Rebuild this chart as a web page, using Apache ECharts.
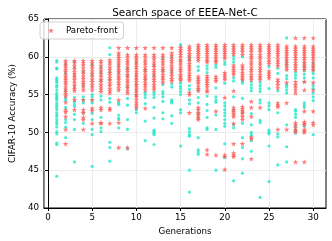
<!DOCTYPE html>
<html><head><meta charset="utf-8">
<script src="https://cdn.jsdelivr.net/npm/echarts@6/dist/echarts.min.js"></script>
<style>html,body{margin:0;padding:0;background:#fff}#c{width:332px;height:241px}</style>
</head><body><div id="c"></div>
<script>
const generations = [1,2,3,4,5,6,7,8,9,10,11,12,13,14,15,16,17,18,19,20,21,22,23,24,25,26,27,28,29,30];
const xTicks = [0,5,10,15,20,25,30];
const yTicks = [40,45,50,55,60,65];

// accuracy of every sampled architecture, one list per generation
const population = [
  [59.5,59.3,58.5,58.4,57.2,57.0,56.8,56.6,56.2,56.0,55.6,55.2,54.9,54.7,54.5,54.3,53.9,53.6,53.3,53.0,52.6,52.3,52.1,51.7,51.4,51.1,50.7,50.1,49.8,48.6,48.4,44.2],
  [59.0,57.8,55.5,54.6,54.3,53.3,51.7,51.3,50.7,49.3],
  [59.4,58.6,57.5,56.0,54.6,54.1,53.7,53.4,52.4,51.7,50.4,46.1],
  [58.0,56.2,54.7,54.3,53.9,52.6,51.2],
  [59.0,57.6,55.0,54.7,54.3,53.9,52.5,51.7,50.4,49.7,45.5],
  [58.6,57.9,56.9,54.8,54.3,52.0,50.6,50.1],
  [61.2,60.3,58.0,57.0,54.5,54.0,48.7,48.0,46.2],
  [58.8,57.9,53.9,53.7,52.3,51.9,51.7,50.6],
  [58.5,57.5,56.0,54.5,53.6,51.7,50.4,47.8],
  [59.2,57.5,56.4,55.5,54.9,53.0,52.6],
  [58.2,57.0,55.3,55.0,54.6,53.8,51.5,48.9],
  [58.8,57.5,55.3,55.0,54.6,53.3,51.9,50.3,50.1,49.9,49.7,48.4],
  [59.8,58.2,56.3,55.4,55.1,54.7,54.1,52.6,51.8],
  [60.0,58.0,56.4,56.0,54.3,54.1,53.9,52.2,51.2],
  [61.6,61.4,59.5,56.5,56.1,55.8,55.4,55.0,53.0,52.6,48.2],
  [60.0,59.6,56.2,55.7,54.3,53.8,50.5,50.1,49.7,49.5,45.0,42.1],
  [58.7,58.2,55.6,54.6,53.9,52.5,51.9,49.3,47.7,47.4,47.1],
  [58.8,58.4,57.9,54.8,53.7,52.9,52.0,50.6,50.4],
  [58.9,58.6,55.9,54.7,54.3,54.0,52.3,50.4,45.0],
  [59.3,59.0,56.5,53.9,53.5,53.0,52.6,52.2,51.7,51.2,50.8,48.5,46.7],
  [60.1,59.7,59.3,57.2,56.8,54.7,52.9,51.0,50.6,43.6],
  [60.0,56.8,56.5,54.5,52.6,51.2,49.3,48.0,46.5,44.6],
  [56.7,56.3,55.9,55.5,52.5,51.0,50.0,49.7,48.9,47.5],
  [56.6,56.2,55.8,55.4,54.3,53.9,51.6,51.3,41.4],
  [58.7,55.8,53.9,53.5,53.0,50.3,50.0,49.8,48.2,43.5],
  [58.5,57.8,55.5,52.6,49.4,49.8,45.7],
  [62.5,59.4,59.0,57.5,57.1,56.3,56.0,55.6,55.2,51.0,48.1,46.1],
  [58.0,57.6,57.2,53.0,52.8,52.4,52.0,50.8,50.3,49.9],
  [59.2,58.7,58.2,57.7,57.2,56.7,53.9,53.6,53.3,50.8],
  [59.2,58.7,58.2,57.8,57.2,56.2,55.8,55.2,54.7,54.2,49.7]
];

// Pareto-front architectures, one list per generation
const paretoFront = [
  [],
  [59.5,59.2,58.9,58.6,58.3,58.0,57.6,57.3,57.0,56.7,56.4,56.0,55.7,55.4,55.1,54.8,54.0,53.0,52.7,52.1,50.4,48.5],
  [59.5,59.2,58.8,58.4,58.0,57.7,57.3,57.0,56.6,56.2,55.8,55.5,54.3,53.0],
  [59.5,59.2,58.9,58.5,58.1,57.8,57.4,57.1,56.7,56.4,56.0,55.6,54.3,53.0,52.6,52.0,51.7,50.4],
  [59.5,59.2,58.8,58.5,58.1,57.8,57.4,57.0,56.7,56.3,56.0,55.6,54.3,53.2,52.9,51.2],
  [59.5,59.2,58.8,58.4,58.1,57.7,57.4,57.0,56.7,56.3,56.0,55.7,55.4,53.3,53.0,51.3,51.2],
  [59.6,59.3,59.0,58.6,58.3,57.9,57.6,57.2,56.9,56.5,56.2,55.8,55.5,55.2,53.2,53.0,51.2],
  [61.2,60.5,60.2,59.9,59.6,59.3,59.0,58.6,58.3,58.0,57.6,57.3,57.0,56.6,56.3,55.9,55.6,54.3,51.3,48.0],
  [61.2,60.3,60.0,59.6,59.3,59.0,58.6,58.3,58.0,57.6,57.3,56.9,56.6,56.2,55.9,55.5,55.2,48.0],
  [61.2,60.3,60.0,59.7,59.4,59.0,58.7,58.4,58.0,57.7,57.3,57.0,56.7,56.3,56.0,55.7,55.3,55.0,54.7,54.3,53.9,53.6,53.3],
  [61.2,60.3,60.0,59.6,59.3,59.0,58.6,58.3,58.0,57.6,57.3,57.0,56.6,56.3,56.0,55.6,53.2],
  [61.2,60.3,60.0,59.7,59.3,59.0,58.7,58.3,58.0,57.7,57.3,57.0,56.7,56.3,56.0,55.7],
  [61.2,60.3,60.0,59.6,59.3,59.0,58.6,58.3,58.0,57.6,57.3,57.0,56.6],
  [61.2,60.5,60.2,59.8,59.5,59.2,58.8,58.5,58.2,57.8,57.5,57.1,56.8],
  [61.2,60.9,60.6,60.3,60.0,59.6,59.3,59.0,58.6,58.3,58.0,57.6,57.4,57.1,56.9],
  [61.4,61.1,60.8,60.4,60.1,59.8,59.5,59.1,58.8,58.5,58.2,57.8,57.5,57.2,56.9,55.3,55.0,52.6],
  [61.6,61.3,61.0,60.7,60.4,60.1,59.8,59.5,57.4,57.1,56.8,56.5,56.1,55.8,55.5,53.3,53.0,52.6,52.3,52.0,51.7],
  [61.6,61.3,61.0,60.7,60.4,60.1,59.8,59.5,59.3,57.5,57.2,56.9,56.6,56.3,56.0,55.6,55.4,47.7,47.1],
  [61.6,61.3,61.0,60.7,60.4,60.1,59.8,59.5,59.3,57.4,57.1,56.8,52.8,47.0],
  [61.6,61.3,61.0,60.7,60.4,60.1,59.8,57.9,57.6,57.3,57.0,54.6,47.0,46.8,45.1],
  [61.6,61.3,61.0,60.7,60.4,58.9,58.6,58.3,58.0,57.7,55.5,53.3,53.0,52.7,52.4,52.1,51.2,48.5,47.3,47.0,46.8],
  [61.6,61.3,61.0,60.7,60.3,58.9,58.6,58.3,57.9,57.6,57.3,57.0,53.4,53.1,52.8,52.5,52.1,51.7,48.5],
  [61.6,61.3,61.0,60.7,60.3,60.0,59.7,59.3,59.0,58.6,58.3,58.0,57.6,57.3,57.0,54.1,53.3,52.1,49.4,49.2,46.5],
  [61.6,61.3,61.0,60.7,60.3,60.0,59.7,59.3,59.0,58.6,58.3,58.0,57.6,57.3,57.0,53.3],
  [61.6,61.3,61.0,60.7,60.4,60.1,59.7,59.4,59.1,58.1,57.8,57.5,57.2],
  [61.6,61.3,61.0,60.7,60.4,60.1,59.7,59.4,59.1,58.8,57.0,56.7,56.3,55.9,53.9,53.6,53.4,50.4],
  [61.4,61.1,60.8,60.5,60.2,59.9,59.6,59.2,58.9,58.6,58.3,56.6,53.9,50.4],
  [62.5,61.4,61.1,60.8,60.5,60.2,59.9,59.6,59.2,58.9,58.6,58.3,56.7,56.3,56.0,55.6,55.2,51.3,51.0,50.6,50.3,50.1,46.1],
  [62.5,61.4,61.1,60.8,60.5,60.2,59.9,59.6,59.2,58.9,58.6,58.3,56.7,55.6,52.8,51.4,51.2,51.0,50.4,50.2,50.0,46.1],
  [62.5,61.4,61.1,60.8,60.5,60.2,59.9,59.6,59.2,58.9,58.6,58.3,56.6,55.6,52.8,51.3,51.0]
];

const popData = [], paretoData = [];
generations.forEach((g, i) => {
  population[i].forEach(v => popData.push([g, v]));
  paretoFront[i].forEach(v => paretoData.push([g, v]));
});

const STAR = 'path://M100,0 L122,69 L195,69 L136,112 L159,181 L100,138 L41,181 L64,112 L5,69 L78,69 Z';
const FONT = 'DejaVu Sans';
const chart = echarts.init(document.getElementById('c'), null, {renderer: 'canvas'});
chart.setOption({
  animation: false,
  backgroundColor: '#fff',
  textStyle: {fontFamily: FONT},
  title: {
    text: 'Search space of EEEA-Net-C',
    left: 180, top: 3, textAlign: 'center',
    textStyle: {fontFamily: FONT, fontSize: 10.4, fontWeight: 'normal', color: '#000'}
  },
  legend: {
    data: [{name: 'Pareto-front', icon: STAR}],
    left: 40, top: 22, orient: 'vertical',
    padding: [4, 6, 4, 8],
    itemWidth: 6, itemHeight: 6,
    borderColor: '#d0d0d0', borderWidth: 1, borderRadius: 3,
    backgroundColor: 'rgba(255,255,255,0.8)',
    textStyle: {fontFamily: FONT, fontSize: 8.7, color: '#000', padding: [0, 0, 0, 7]}
  },
  grid: {left: 34, right: 6, top: 19, bottom: 33, show: true, borderColor: '#000', borderWidth: 1},
  xAxis: {
    type: 'value', min: -0.45, max: 31.45,
    name: 'Generations', nameLocation: 'middle', nameGap: 16,
    nameTextStyle: {fontFamily: FONT, fontSize: 8.7, color: '#000'},
    axisLine: {lineStyle: {color: '#000', width: 1}},
    axisTick: {length: 3, lineStyle: {color: '#000'}, customValues: xTicks},
    axisLabel: {customValues: xTicks, margin: 5, fontFamily: FONT, fontSize: 8.7, color: '#000'},
    splitLine: {show: true, lineStyle: {color: '#ececec', width: 1}}
  },
  yAxis: {
    type: 'value', min: 40, max: 65, interval: 5,
    name: 'CIFAR-10 Accuracy (%)', nameLocation: 'middle', nameGap: 21,
    nameTextStyle: {fontFamily: FONT, fontSize: 8.7, color: '#000'},
    axisLine: {show: true, lineStyle: {color: '#000', width: 1}},
    axisTick: {show: true, length: 3, lineStyle: {color: '#000'}, customValues: yTicks},
    axisLabel: {customValues: yTicks, margin: 5, fontFamily: FONT, fontSize: 8.7, color: '#000'},
    splitLine: {show: true, lineStyle: {color: '#ececec', width: 1}}
  },
  series: [
    {name: 'Population', type: 'scatter', data: popData, symbol: 'circle', symbolSize: 3.2,
     itemStyle: {color: '#22e6cb'}, z: 2},
    {name: 'Pareto-front', type: 'scatter', data: paretoData, symbol: STAR, symbolSize: 5.5,
     itemStyle: {color: '#ff5852'}, z: 3}
  ]
});
</script></body></html>
